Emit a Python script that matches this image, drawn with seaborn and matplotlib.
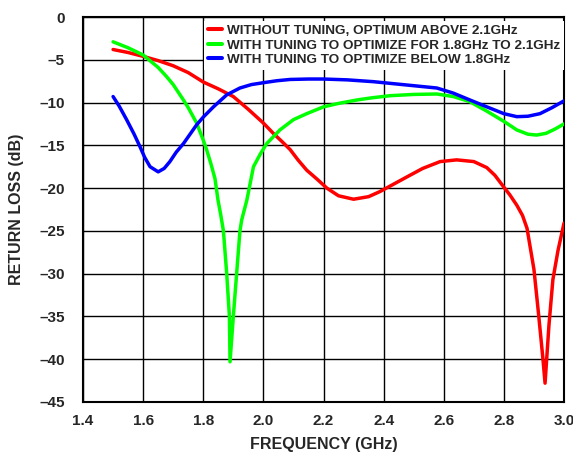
import pandas as pd
import matplotlib.pyplot as plt
import seaborn as sns
from matplotlib.ticker import FuncFormatter, MultipleLocator

# Return loss curves
freq_red = [1.50, 1.55, 1.60, 1.65, 1.70, 1.75, 1.80, 1.85, 1.90, 1.95, 2.00, 2.033, 2.06, 2.089,
            2.115, 2.144, 2.18, 2.211, 2.25, 2.30, 2.35, 2.388, 2.43, 2.477, 2.53, 2.588, 2.643,
            2.70, 2.743, 2.77, 2.798, 2.82, 2.843, 2.862, 2.877, 2.90, 2.915, 2.93, 2.937, 2.95,
            2.963, 2.98, 3.00]
rl_red = [-3.8, -4.15, -4.6, -5.1, -5.7, -6.5, -7.6, -8.4, -9.3, -10.8, -12.4, -13.6, -14.5, -15.5,
          -16.7, -17.9, -19.0, -20.0, -20.9, -21.3, -21.0, -20.4, -19.6, -18.7, -17.7, -16.9, -16.7,
          -16.9, -17.6, -18.5, -19.8, -20.8, -22.0, -23.2, -24.7, -29.5, -34.6, -40.0, -42.8, -36.0,
          -30.7, -27.3, -24.1]

freq_green = [1.50, 1.55, 1.60, 1.65, 1.678, 1.70, 1.734, 1.75, 1.778, 1.80, 1.811, 1.825, 1.839,
              1.849, 1.858, 1.867, 1.878, 1.887, 1.889, 1.90, 1.911, 1.922, 1.928, 1.945, 1.967,
              1.99, 2.011, 2.055, 2.10, 2.144, 2.20, 2.25, 2.311, 2.36, 2.421, 2.50, 2.577, 2.632,
              2.687, 2.743, 2.80, 2.843, 2.88, 2.909, 2.94, 2.97, 3.00]
rl_green = [-2.9, -3.6, -4.44, -5.9, -6.97, -7.9, -9.7, -10.6, -12.4, -14.4, -15.5, -17.1, -18.9,
            -21.4, -23.1, -25.0, -30.0, -35.0, -40.3, -35.0, -30.0, -25.0, -23.7, -21.4, -17.5,
            -16.0, -14.8, -13.2, -12.0, -11.3, -10.5, -10.1, -9.7, -9.45, -9.2, -9.05, -9.0, -9.3,
            -9.9, -11.0, -12.2, -13.2, -13.7, -13.8, -13.6, -13.1, -12.5]

freq_blue = [1.50, 1.52, 1.545, 1.57, 1.59, 1.605, 1.623, 1.65, 1.67, 1.689, 1.71, 1.734, 1.756,
             1.778, 1.80, 1.834, 1.878, 1.922, 1.96, 2.00, 2.045, 2.089, 2.15, 2.20, 2.28, 2.366,
             2.477, 2.577, 2.632, 2.687, 2.743, 2.80, 2.843, 2.88, 2.92, 2.96, 3.00]
rl_blue = [-9.3, -10.4, -12.0, -13.7, -15.2, -16.4, -17.5, -18.1, -17.7, -16.9, -15.8, -14.8, -13.7,
           -12.6, -11.7, -10.5, -9.1, -8.3, -7.9, -7.68, -7.45, -7.3, -7.25, -7.25, -7.35, -7.56,
           -7.95, -8.3, -8.9, -9.7, -10.5, -11.3, -11.65, -11.6, -11.3, -10.6, -9.8]

labels = ["WITHOUT TUNING, OPTIMUM ABOVE 2.1GHz",
          "WITH TUNING TO OPTIMIZE FOR 1.8GHz TO 2.1GHz",
          "WITH TUNING TO OPTIMIZE BELOW 1.8GHz"]
colors = ["#ff0000", "#00ff00", "#0000ff"]
x_ticks = [1.4, 1.6, 1.8, 2.0, 2.2, 2.4, 2.6, 2.8, 3.0]

sns.set_style("white")
plt.rcParams['font.family'] = ['Liberation Sans', 'DejaVu Sans']
plt.rcParams['font.weight'] = 'bold'

fig = plt.figure(figsize=(5.73, 4.57), dpi=100)
ax = fig.add_axes([0.1449, 0.1204, 0.8394, 0.8424])

series = [(freq_red, rl_red), (freq_green, rl_green), (freq_blue, rl_blue)]
for (fx, fy), lab, col in zip(series, labels, colors):
    df = pd.DataFrame({"freq": fx, "rl": fy})
    sns.lineplot(data=df, x="freq", y="rl", ax=ax, color=col, linewidth=2.5,
                 label=lab, sort=False, zorder=3)

ax.set_xlim(1.4, 3.0)
ax.set_ylim(-45, 0)
ax.set_xticks(x_ticks)
ax.yaxis.set_major_locator(MultipleLocator(5))
ax.xaxis.set_major_formatter(FuncFormatter(lambda v, p: f"{v:.1f}"))
ax.yaxis.set_major_formatter(FuncFormatter(lambda v, p: "0" if v == 0 else f"\u2013{abs(v):.0f}"))
ax.tick_params(length=0, labelsize=11)
ax.tick_params(axis='x', pad=9)
ax.tick_params(axis='y', pad=13)
for lbl in ax.get_xticklabels() + ax.get_yticklabels():
    lbl.set_fontweight('bold')

ax.grid(True, color='black', linewidth=1.0)
ax.set_axisbelow(True)
for s in ax.spines.values():
    s.set_color('black')
    s.set_linewidth(1.5)

ax.set_xlabel("FREQUENCY (GHz)", fontsize=11.5, fontweight='bold', labelpad=6)
ax.set_ylabel("RETURN LOSS (dB)", fontsize=11.5, fontweight='bold', labelpad=11)

leg = ax.legend(loc='upper right', bbox_to_anchor=(1.0, 0.989), fontsize=9.7, frameon=True,
                fancybox=False, framealpha=1, edgecolor='none', facecolor='white',
                handlelength=1.1, handletextpad=0.37, labelspacing=0.16,
                borderpad=0.25, borderaxespad=0.0)
for t in leg.get_texts():
    t.set_fontweight('bold')
for h in leg.get_lines():
    h.set_linewidth(2.9)

fig.savefig("out.png", dpi=100)
